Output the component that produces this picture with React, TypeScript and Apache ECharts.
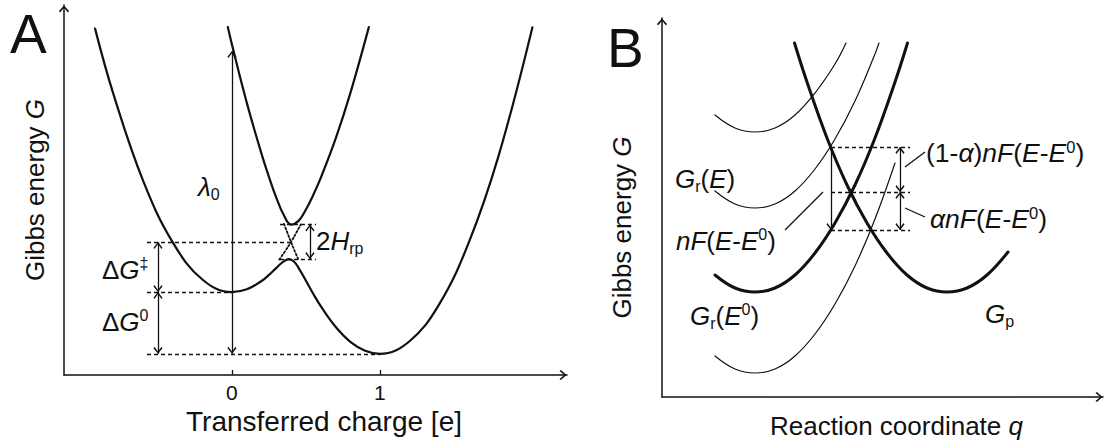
import React, { useEffect, useRef } from 'react';
import * as echarts from 'echarts';

const FONT = '"Liberation Sans", Arial, Helvetica, sans-serif';
const INK = '#111';

// ---------- Panel A: transferred charge [e] vs Gibbs energy (arb. units, λ0 ≈ 100)
const lowerCharge = [-0.925, -0.8, -0.6, -0.4, -0.2, 0, 0.1, 0.2, 0.25, 0.3, 0.35, 0.385, 0.42, 0.45, 0.5, 0.55, 0.6, 0.7, 0.8, 0.9, 1.0, 1.2, 1.4, 1.6, 1.8, 2.03];
const lowerEnergy = [112.8, 91.3, 63.2, 43.2, 31.1, 27.0, 27.9, 30.6, 32.6, 34.9, 37.0, 37.75, 36.9, 34.9, 30.7, 26.4, 22.4, 15.7, 10.8, 7.9, 6.9, 11.0, 23.0, 43.1, 71.1, 113.2];
const upperCharge = [-0.028, 0, 0.1, 0.2, 0.25, 0.3, 0.35, 0.4, 0.45, 0.5, 0.55, 0.6, 0.7, 0.8, 0.925];
const upperEnergy = [113.3, 107.6, 88.7, 72.0, 64.5, 57.7, 52.1, 49.0, 50.2, 53.9, 58.7, 64.2, 76.9, 91.8, 113.3];
const diabRCharge = [0.32, 0.36, 0.4, 0.44, 0.465];
const diabREnergy = [37.6, 40.4, 43.4, 46.8, 49.0];
const diabPCharge = [0.352, 0.38, 0.4, 0.42, 0.447];
const diabPEnergy = [49.2, 45.6, 43.2, 40.8, 37.8];
const chargeTicks = [0, 1];
const guidesA = [
  [[-0.574, 43.3], [0.41, 43.3]],
  [[-0.574, 27.0], [0, 27.0]],
  [[-0.574, 6.9], [1, 6.9]],
  [[0.324, 49.0], [0.568, 49.0]],
  [[0.324, 37.75], [0.568, 37.75]],
];
const arrowsA = [
  [[-0.5, 27.0], [-0.5, 43.3]],
  [[-0.5, 6.9], [-0.5, 27.0]],
  [[0, 6.9], [0, 105.5]],
  [[0.527, 37.75], [0.527, 49.0]],
];

// ---------- Panel B: reaction coordinate q vs Gibbs energy (arb. units)
const qTop = [5.3, 7.3, 9.3, 11.3, 13.3, 15.3, 17.3, 18.4];
const gTop = [28.2, 26.9, 26.5, 26.9, 28.2, 30.4, 33.3, 35.4];
const qRE = [5.3, 7.3, 9.3, 11.3, 13.3, 15.3, 17.3, 19.3, 21.3, 21.7];
const gRE = [20.6, 19.3, 18.9, 19.3, 20.6, 22.8, 25.8, 29.6, 34.3, 35.4];
const qRE0 = [5.3, 7.3, 9.3, 11.3, 13.3, 15.3, 17.3, 19.3, 21.3, 23.3, 24.55];
const gRE0 = [12.2, 10.9, 10.5, 10.9, 12.2, 14.4, 17.4, 21.2, 25.9, 31.5, 35.4];
const qLow = [5.3, 7.3, 9.3, 11.3, 13.3, 15.3, 17.3, 19.3, 21.3, 23.3];
const gLow = [4.1, 2.8, 2.4, 2.8, 4.1, 6.3, 9.3, 13.1, 17.8, 23.4];
const qP = [13.25, 14.5, 16.5, 18.5, 20.5, 22.5, 24.5, 26.5, 28.5, 30.5, 32.5, 34.6];
const gP = [35.4, 31.5, 25.9, 21.2, 17.4, 14.4, 12.2, 10.9, 10.5, 10.9, 12.2, 14.5];
const guidesB = [
  [[16.9, 25.0], [24.8, 25.0]],
  [[16.9, 20.5], [24.8, 20.5]],
  [[16.9, 16.7], [24.8, 16.7]],
];
const arrowsB = [
  [[23.8, 20.5], [23.8, 25.0]],
  [[23.8, 16.7], [23.8, 20.5]],
];
const singleArrowB = [[[16.9, 25.0], [16.9, 16.7]]];
const leadersB = [
  [[24.3, 23.0], [26.3, 24.5]],
  [[24.3, 18.9], [26.3, 18.0]],
  [[12.3, 16.7], [16.1, 20.5]],
];

const CHEV = 'path://M50,0L100,56L90,70L50,22L10,70L0,56Z';

const makeRich = (size: number, small: number) => ({
  n: { fontSize: size, fontFamily: FONT, fill: INK, lineHeight: 30 },
  i: { fontSize: size, fontFamily: FONT, fontStyle: 'italic', fill: INK, lineHeight: 30 },
  sup: { fontSize: small, fontFamily: FONT, fill: INK, lineHeight: small, verticalAlign: 'top' },
  sub: { fontSize: small, fontFamily: FONT, fill: INK, lineHeight: small, verticalAlign: 'bottom' },
});

const label = (x: number, y: number, text: string, size = 26, small = 16) => ({
  type: 'text',
  x,
  y,
  silent: true,
  style: { text, rich: makeRich(size, small), fontSize: size, fontFamily: FONT, fill: INK, align: 'left', verticalAlign: 'middle' },
});

const pairs = (xs: number[], ys: number[]) => xs.map((x, i) => [x, ys[i]]);

const curve = (xs: number[], ys: number[], width: number, ax: number, dash?: any) => ({
  type: 'line',
  xAxisIndex: ax,
  yAxisIndex: ax,
  data: pairs(xs, ys),
  smooth: 0.4,
  showSymbol: false,
  symbol: 'none',
  silent: true,
  lineStyle: { color: INK, width, type: dash || 'solid', cap: 'round' },
});

const HEAD = [9, 7];

const marks = (ax: number, lines: number[][][], kind: 'dash' | 'both' | 'end' | 'plain') => {
  const fromSym = kind === 'both' ? CHEV : 'none';
  const toSym = kind === 'both' || kind === 'end' ? CHEV : 'none';
  return {
    type: 'line',
    xAxisIndex: ax,
    yAxisIndex: ax,
    data: [],
    silent: true,
    markLine: {
      silent: true,
      animation: false,
      symbol: [fromSym, toSym],
      symbolOffset: [[0, HEAD[1] / 2], [0, HEAD[1] / 2]],
      label: { show: false },
      emphasis: { disabled: true },
      itemStyle: { color: INK },
      lineStyle: {
        color: INK,
        width: 1.3,
        type: kind === 'dash' ? [4, 3] : 'solid',
      },
      data: lines.map(([a, b]) => [
        { coord: a, symbol: fromSym, symbolSize: HEAD },
        { coord: b, symbol: toSym, symbolSize: HEAD },
      ]),
    },
  };
};

const axisLineStyle = { color: INK, width: 1.5 };
const italic = { i: { fontSize: 26, fontFamily: FONT, fontStyle: 'italic', color: INK } };

export default function App() {
  const ref = useRef<HTMLDivElement>(null);
  useEffect(() => {
    if (!ref.current) return;
    const chart = echarts.init(ref.current, undefined, { renderer: 'svg' });
    const option: any = {
      animation: false,
      backgroundColor: '#fff',
      grid: [
        { left: 64, right: 551, top: 5, bottom: 69 },
        { left: 662, right: 15, top: 18, bottom: 47 },
      ],
      xAxis: [
        {
          type: 'value', gridIndex: 0, min: -1.135, max: 2.264,
          name: 'Transferred charge [e]', nameLocation: 'middle', nameGap: 22,
          nameTextStyle: { fontSize: 28, fontFamily: FONT, color: INK, padding: [0, 0, 0, 17] },
          axisLine: { show: true, onZero: false, symbol: ['none', CHEV], symbolSize: [10, 8], symbolOffset: [0, -4], lineStyle: axisLineStyle },
          axisTick: { show: true, inside: true, length: 5, customValues: chargeTicks, lineStyle: { color: INK, width: 1.3 } },
          axisLabel: { show: true, customValues: chargeTicks, fontSize: 21, fontFamily: FONT, color: INK, margin: 7 },
          splitLine: { show: false },
        },
        {
          type: 'value', gridIndex: 1, min: 0, max: 44.1,
          name: 'Reaction coordinate {i|q}', nameLocation: 'middle', nameGap: 16,
          nameTextStyle: { fontSize: 26, fontFamily: FONT, color: INK, padding: [0, 0, 0, 28], rich: italic },
          axisLine: { show: true, onZero: false, symbol: ['none', CHEV], symbolSize: [10, 8], symbolOffset: [0, -4], lineStyle: axisLineStyle },
          axisTick: { show: false },
          axisLabel: { show: false },
          splitLine: { show: false },
        },
      ],
      yAxis: [
        {
          type: 'value', gridIndex: 0, min: 0, max: 120.5,
          name: 'Gibbs energy {i|G}', nameLocation: 'middle', nameGap: 16,
          nameTextStyle: { fontSize: 26, fontFamily: FONT, color: INK, rich: italic },
          axisLine: { show: true, onZero: false, symbol: ['none', CHEV], symbolSize: [10, 8], symbolOffset: [0, -4], lineStyle: axisLineStyle },
          axisTick: { show: false },
          axisLabel: { show: false },
          splitLine: { show: false },
        },
        {
          type: 'value', gridIndex: 1, min: 0, max: 37.9,
          name: 'Gibbs energy {i|G}', nameLocation: 'middle', nameGap: 27,
          nameTextStyle: { fontSize: 26, fontFamily: FONT, color: INK, padding: [0, 40, 0, 0], rich: italic },
          axisLine: { show: true, onZero: false, symbol: ['none', CHEV], symbolSize: [10, 8], symbolOffset: [0, -4], lineStyle: axisLineStyle },
          axisTick: { show: false },
          axisLabel: { show: false },
          splitLine: { show: false },
        },
      ],
      series: [
        curve(lowerCharge, lowerEnergy, 2.2, 0),
        curve(upperCharge, upperEnergy, 2.2, 0),
        curve(diabRCharge, diabREnergy, 1.8, 0, [1.8, 2.2]),
        curve(diabPCharge, diabPEnergy, 1.8, 0, [1.8, 2.2]),
        marks(0, guidesA, 'dash'),
        marks(0, arrowsA, 'both'),
        curve(qTop, gTop, 1.2, 1),
        curve(qRE, gRE, 1.2, 1),
        curve(qLow, gLow, 1.2, 1),
        curve(qRE0, gRE0, 3, 1),
        curve(qP, gP, 3, 1),
        marks(1, guidesB, 'dash'),
        marks(1, arrowsB, 'both'),
        marks(1, singleArrowB, 'end'),
        marks(1, leadersB, 'plain'),
      ],
      graphic: [
        { type: 'text', x: 10, y: 34, silent: true, style: { text: 'A', fontSize: 55, fontFamily: FONT, fill: INK, align: 'left', verticalAlign: 'middle' } },
        { type: 'text', x: 607, y: 48, silent: true, style: { text: 'B', fontSize: 55, fontFamily: FONT, fill: INK, align: 'left', verticalAlign: 'middle' } },
        label(198, 187, '{i|λ}{sub|0}'),
        label(316, 241, '{n|2}{i|H}{sub|rp}'),
        label(102, 270, '{n|Δ}{i|G}{sup|‡}'),
        label(102, 322, '{n|Δ}{i|G}{sup|0}'),
        label(675, 179, '{i|G}{sub|r}{n|(}{i|E}{n|)}'),
        label(676, 241, '{i|nF}{n|(}{i|E}{n|-}{i|E}{sup|0}{n|)}'),
        label(690, 316, '{i|G}{sub|r}{n|(}{i|E}{sup|0}{n|)}'),
        label(985, 314, '{i|G}{sub|p}'),
        label(926, 153, '{n|(1-}{i|α}{n|)}{i|nF}{n|(}{i|E}{n|-}{i|E}{sup|0}{n|)}', 26.5, 16.5),
        label(930, 219, '{i|αnF}{n|(}{i|E}{n|-}{i|E}{sup|0}{n|)}', 26.5, 16.5),
      ],
    };
    chart.setOption(option);
    return () => chart.dispose();
  }, []);
  return <div ref={ref} style={{ position: 'fixed', left: 0, top: 0, width: 1118, height: 444, background: '#fff' }} />;
}
